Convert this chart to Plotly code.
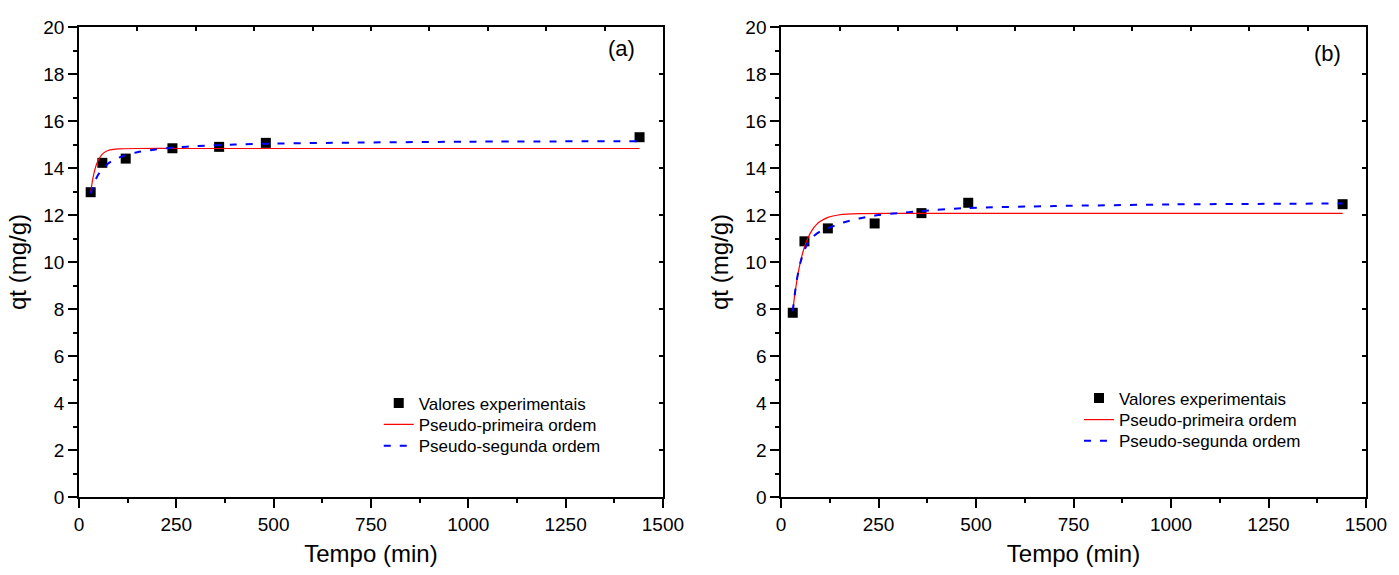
import plotly.graph_objects as go

# ---- data ----
t_exp = [30, 60, 120, 240, 360, 480, 1440]
q_exp_a = [12.97, 14.22, 14.40, 14.84, 14.90, 15.07, 15.31]
q_exp_b = [7.84, 10.88, 11.43, 11.64, 12.08, 12.52, 12.46]

t_fit_a = [30, 35, 40, 45, 50, 60, 70, 80, 100, 150, 250, 500, 1000, 1440]
q_pfo_a = [12.95, 13.50, 13.88, 14.16, 14.35, 14.59, 14.71, 14.77, 14.81, 14.83, 14.83, 14.83, 14.83, 14.83]

t_pso_a = [30, 35, 40, 50, 60, 75, 90, 120, 150, 200, 250, 300, 400, 500, 700, 1000, 1440]
q_pso_a = [12.90, 13.18, 13.41, 13.73, 13.95, 14.19, 14.35, 14.55, 14.67, 14.80, 14.88, 14.93, 15.00, 15.04, 15.08, 15.12, 15.14]

t_fit_b = [30, 35, 40, 45, 50, 60, 70, 80, 90, 100, 120, 150, 200, 300, 700, 1440]
q_pfo_b = [7.91, 8.59, 9.15, 9.63, 10.03, 10.64, 11.06, 11.37, 11.58, 11.72, 11.90, 12.01, 12.06, 12.07, 12.07, 12.07]

t_pso_b = [30, 35, 40, 50, 60, 70, 80, 100, 130, 160, 200, 250, 300, 360, 480, 700, 1000, 1440]
q_pso_b = [7.90, 8.60, 9.20, 10.00, 10.50, 10.85, 11.05, 11.30, 11.50, 11.68, 11.85, 12.00, 12.08, 12.17, 12.30, 12.38, 12.45, 12.49]

x_ticks = [0, 250, 500, 750, 1000, 1250, 1500]
y_ticks = [0, 2, 4, 6, 8, 10, 12, 14, 16, 18, 20]
panel_labels = ["(a)", "(b)"]
names = ["Valores experimentais", "Pseudo-primeira ordem", "Pseudo-segunda ordem"]

FONT = "Arial, Liberation Sans, sans-serif"
fig = go.Figure()

panels = [
    dict(xa="x", ya="y", xt="x3", yr="y3", q=q_exp_a, tp=t_fit_a, qp=q_pfo_a, ts=t_pso_a, qs=q_pso_a,
         legs=["legend", "legend2", "legend3"]),
    dict(xa="x2", ya="y2", xt="x4", yr="y4", q=q_exp_b, tp=t_fit_b, qp=q_pfo_b, ts=t_pso_b, qs=q_pso_b,
         legs=["legend4", "legend5", "legend6"]),
]
for p in panels:
    fig.add_trace(go.Scatter(x=t_exp, y=p["q"], mode="markers", name=names[0],
                             marker=dict(symbol="square", size=10, color="black"),
                             xaxis=p["xa"], yaxis=p["ya"], legend=p["legs"][0]))
    fig.add_trace(go.Scatter(x=p["tp"], y=p["qp"], mode="lines", name=names[1],
                             line=dict(color="#FF0000", width=1.2, shape="spline", smoothing=0.7),
                             xaxis=p["xa"], yaxis=p["ya"], legend=p["legs"][1]))
    fig.add_trace(go.Scatter(x=p["ts"], y=p["qs"], mode="lines", name=names[2],
                             line=dict(color="#0000FF", width=2, dash="7px,9px", shape="spline", smoothing=0.7),
                             xaxis=p["xa"], yaxis=p["ya"], legend=p["legs"][2]))
    # empty traces so the frame axes (top / right) are drawn
    fig.add_trace(go.Scatter(x=[None], y=[None], mode="markers", showlegend=False, hoverinfo="skip",
                             xaxis=p["xt"], yaxis=p["ya"]))
    fig.add_trace(go.Scatter(x=[None], y=[None], mode="markers", showlegend=False, hoverinfo="skip",
                             xaxis=p["xa"], yaxis=p["yr"]))

tickfont = dict(family=FONT, size=19, color="black")
titlefont = dict(family=FONT, size=24, color="black")

def xmain(domain, anchor):
    return dict(domain=domain, anchor=anchor, range=[0, 1500], tickvals=x_ticks,
                ticks="outside", ticklen=9, tickwidth=1.5, tickcolor="black",
                showline=True, linecolor="black", linewidth=1.5, showgrid=False, zeroline=False,
                tickfont=tickfont, title=dict(text="Tempo (min)", font=titlefont, standoff=12),
                minor=dict(ticks="outside", ticklen=4, tickwidth=1.5, tickcolor="black", dtick=125, tick0=0))

def ymain(anchor):
    return dict(domain=[0, 1], anchor=anchor, range=[0, 20], tickvals=y_ticks,
                ticks="outside", ticklen=9, tickwidth=1.5, tickcolor="black",
                showline=True, linecolor="black", linewidth=1.5, showgrid=False, zeroline=False,
                tickfont=tickfont, title=dict(text="qt (mg/g)", font=titlefont, standoff=10),
                minor=dict(ticks="outside", ticklen=4, tickwidth=1.5, tickcolor="black", dtick=1, tick0=0))

def xtop(over, anchor):
    return dict(overlaying=over, anchor=anchor, side="top", range=[0, 1500], dtick=150, tick0=0,
                ticks="inside", ticklen=4, tickwidth=1.5, tickcolor="black", showticklabels=False,
                showline=True, linecolor="black", linewidth=1.5, showgrid=False, zeroline=False)

def yright(over, anchor):
    return dict(overlaying=over, anchor=anchor, side="right", range=[0, 20], dtick=2, tick0=0,
                ticks="inside", ticklen=4, tickwidth=1.5, tickcolor="black", showticklabels=False,
                showline=True, linecolor="black", linewidth=1.5, showgrid=False, zeroline=False)

legfont = dict(family=FONT, size=17, color="black")

def leg(x, y):
    return dict(x=x, y=y, xanchor="left", yanchor="middle", font=legfont,
                bgcolor="rgba(0,0,0,0)", borderwidth=0)

fig.update_layout(
    width=1399, height=575,
    margin=dict(l=79, r=24, t=27, b=76),
    paper_bgcolor="white", plot_bgcolor="white",
    xaxis=xmain([0, 0.4537], "y"),
    yaxis=ymain("x"),
    xaxis2=xmain([0.5455, 1], "y2"),
    yaxis2=ymain("x2"),
    xaxis3=xtop("x", "y"),
    yaxis3=yright("y", "x"),
    xaxis4=xtop("x2", "y2"),
    yaxis4=yright("y2", "x2"),
    legend=leg(0.2329, 0.199),
    legend2=leg(0.2329, 0.1535),
    legend3=leg(0.2329, 0.108),
    legend4=leg(0.777, 0.2096),
    legend5=leg(0.777, 0.1637),
    legend6=leg(0.777, 0.1186),
    showlegend=True,
    annotations=[
        dict(text=panel_labels[0], x=1394, y=19.07, xref="x", yref="y", showarrow=False,
             font=dict(family=FONT, size=22, color="black")),
        dict(text=panel_labels[1], x=1400, y=18.86, xref="x2", yref="y2", showarrow=False,
             font=dict(family=FONT, size=22, color="black")),
    ],
)

fig.write_html("out.html")
